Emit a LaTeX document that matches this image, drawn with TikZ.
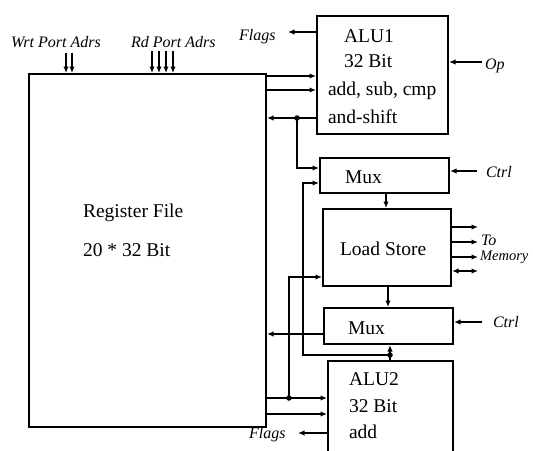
\documentclass[tikz,border=0pt]{standalone}
\usepackage{fontspec}
\setmainfont{Liberation Serif}
\usetikzlibrary{arrows.meta}
\begin{document}
\begin{tikzpicture}[x=1pt,y=-1pt,line width=2.1pt,
  box/.style={draw, rectangle, anchor=north west, inner sep=0pt},
  txt/.style={anchor=base west, inner sep=0pt, font=\fontsize{19.5}{22}\selectfont},
  lbl/.style={anchor=base west, inner sep=0pt, font=\fontsize{16}{18}\selectfont\itshape},
  arr/.style={-{Latex[length=6.5pt,width=5.5pt]}},
  darr/.style={{Latex[length=6.5pt,width=5.5pt]}-{Latex[length=6.5pt,width=5.5pt]}},
  jdot/.style={circle, fill, draw=none, inner sep=0pt, minimum size=5.5pt}
]
\useasboundingbox (0,0) rectangle (533,450);
\clip (0,0) rectangle (533,450);
\fill[white] (0,0) rectangle (533,450);

% boxes
\node[box, minimum width=237pt, minimum height=353pt] (rf) at (28,73) {};
\node[box, minimum width=131pt, minimum height=118pt] (alu1) at (316,15) {};
\node[box, minimum width=129pt, minimum height=35pt] (mux1) at (319,157) {};
\node[box, minimum width=128pt, minimum height=77pt] (ls) at (322,208) {};
\node[box, minimum width=129pt, minimum height=36pt] (mux2) at (323,307) {};
\node[box, minimum width=125pt, minimum height=110pt] (alu2) at (327,360) {};

% texts in boxes
\node[txt] (rft1) at (82,217) {Register File};
\node[txt] (rft2) at (82,256) {20 * 32 Bit};
\node[txt] (a1t1) at (343,42) {ALU1};
\node[txt] (a1t2) at (343,67) {32 Bit};
\node[txt] (a1t3) at (327,95) {add, sub, cmp};
\node[txt] (a1t4) at (327,123) {and-shift};
\node[txt] (m1t) at (344,183) {Mux};
\node[txt] (lst) at (339,255) {Load Store};
\node[txt] (m2t) at (347,334) {Mux};
\node[txt] (a2t1) at (348,385) {ALU2};
\node[txt] (a2t2) at (348,412) {32 Bit};
\node[txt] (a2t3) at (348,438) {add};

% labels
\node[lbl] (wrt) at (10,47) {Wrt Port Adrs};
\node[lbl] (rd) at (130,47) {Rd Port Adrs};
\node[lbl] (fl1) at (238,40) {Flags};
\node[lbl] (fl2) at (248,438) {Flags};
\node[lbl] (op) at (484,69) {Op};
\node[lbl] (ct1) at (485,177) {Ctrl};
\node[lbl] (ct2) at (492,327) {Ctrl};
\node[lbl] (to) at (480,245) {To};
\node[lbl, font=\fontsize{14.5}{17}\selectfont\itshape] (mem) at (479,260) {Memory};

% free ends
\coordinate (w1) at (66,53);
\coordinate (w2) at (72,53);
\coordinate (r1) at (152,51);
\coordinate (r2) at (159,51);
\coordinate (r3) at (166,51);
\coordinate (r4) at (173,51);
\coordinate (f1) at (288,32);
\coordinate (f2) at (298,433);
\coordinate (opin) at (482,62);
\coordinate (c1in) at (477,171);
\coordinate (c2in) at (482,322);
\coordinate (m1) at (478,227);
\coordinate (m2) at (478,242);
\coordinate (m3) at (478,257);
\coordinate (m4) at (478,271);

% port address inputs
\foreach \p in {w1,w2,r1,r2,r3,r4}
  \draw[arr] (\p) -- (\p |- rf.north);

% ALU1
\draw[arr] (alu1.west |- 0,32) -- (f1);
\draw[arr] (opin) -- (opin -| alu1.east);
\draw[arr] (rf.east |- 0,76) -- (alu1.west |- 0,76);
\draw[arr] (rf.east |- 0,90) -- (alu1.west |- 0,90);
\draw[arr] (alu1.west |- 0,118) -- (rf.east |- 0,118);
\node[jdot] (d1) at (297,118) {};
\draw[arr] (d1.center) -- (297,168) -- (mux1.west |- 0,168);

% Mux1 / Load Store
\draw[arr] (c1in) -- (c1in -| mux1.east);
\draw[arr] (mux1.south -| 386,0) -- (ls.north -| 386,0);
\draw[arr] (ls.south -| 388,0) -- (mux2.north -| 388,0);
\draw[arr] (ls.east |- m1) -- (m1);
\draw[arr] (ls.east |- m2) -- (m2);
\draw[arr] (ls.east |- m3) -- (m3);
\draw[darr] (ls.east |- m4) -- (m4);

% Mux2
\draw[arr] (c2in) -- (c2in -| mux2.east);
\draw[arr] (mux2.west |- 0,334) -- (rf.east |- 0,334);

% ALU2 result feedback
\node[jdot] (d2) at (390,355) {};
\draw[arr] (alu2.north -| 390,0) -- (mux2.south -| 390,0);
\draw[arr] (d2.center) -- (303,355) -- (303,183) -- (mux1.west |- 0,183);

% register file to ALU2 and Load Store
\draw[arr] (rf.east |- 0,398) -- (alu2.west |- 0,398);
\draw[arr] (rf.east |- 0,414) -- (alu2.west |- 0,414);
\node[jdot] (d3) at (289,398) {};
\draw[arr] (d3.center) -- (289,277) -- (ls.west |- 0,277);
\draw[arr] (alu2.west |- f2) -- (f2);
\end{tikzpicture}
\end{document}
